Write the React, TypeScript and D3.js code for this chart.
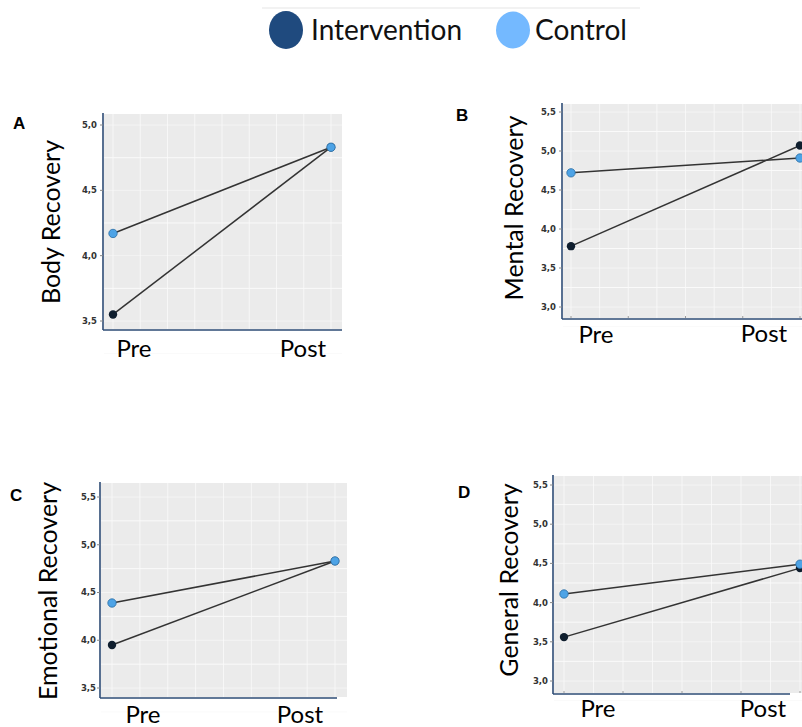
import * as d3 from "d3";

// data
const phases = ["Pre", "Post"];
const bodyIntervention = [3.55, 4.83];
const bodyControl = [4.17, 4.83];
const mentalIntervention = [3.78, 5.07];
const mentalControl = [4.72, 4.91];
const emotionalIntervention = [3.95, 4.83];
const emotionalControl = [4.39, 4.83];
const generalIntervention = [3.56, 4.44];
const generalControl = [4.11, 4.49];
const ticksA = [3.5, 4.0, 4.5, 5.0];
const ticksB = [3.0, 3.5, 4.0, 4.5, 5.0, 5.5];
const ticksC = [3.5, 4.0, 4.5, 5.0, 5.5];

const colors = {
  intervention: "#0f1e2e",
  control: "#4da3e6",
  legendIntervention: "#1f4a7e",
  legendControl: "#74b9ff",
  axis: "#2d4b75",
  panel: "#ebebeb",
};

const font = "Lato, 'Open Sans', sans-serif";

type Panel = {
  letter: string;
  title: string;
  intervention: number[];
  control: number[];
  ticks: number[];
  axisX: number;
  top: number;
  bottom: number;
  right: number;
  bgRight: number;
  yTickLow: number;
  yTickHigh: number;
  xPre: number;
  xPost: number;
  letterPos: [number, number];
  titlePos: [number, number];
  prePos: [number, number];
  postPos: [number, number];
  tickLabelX: number;
  xTicks: boolean;
};

const panels: Panel[] = [
  {
    letter: "A", title: "Body Recovery", intervention: bodyIntervention, control: bodyControl,
    ticks: ticksA, axisX: 103, top: 113, bottom: 330, right: 342, bgRight: 342,
    yTickLow: 321, yTickHigh: 125, xPre: 113, xPost: 331,
    letterPos: [13, 129], titlePos: [51, 222], prePos: [134, 357], postPos: [303, 357],
    tickLabelX: 97, xTicks: false,
  },
  {
    letter: "B", title: "Mental Recovery", intervention: mentalIntervention, control: mentalControl,
    ticks: ticksB, axisX: 562, top: 103, bottom: 319, right: 802, bgRight: 802,
    yTickLow: 307, yTickHigh: 112, xPre: 571, xPost: 800,
    letterPos: [456, 121], titlePos: [514, 208], prePos: [596, 343], postPos: [764, 342],
    tickLabelX: 556, xTicks: true,
  },
  {
    letter: "C", title: "Emotional Recovery", intervention: emotionalIntervention, control: emotionalControl,
    ticks: ticksC, axisX: 100, top: 482, bottom: 698, right: 337, bgRight: 347,
    yTickLow: 688, yTickHigh: 497, xPre: 112, xPost: 335,
    letterPos: [10, 501], titlePos: [48, 591], prePos: [143, 723], postPos: [300, 723],
    tickLabelX: 96, xTicks: false,
  },
  {
    letter: "D", title: "General Recovery", intervention: generalIntervention, control: generalControl,
    ticks: ticksB, axisX: 553, top: 475, bottom: 694, right: 790, bgRight: 802,
    yTickLow: 681, yTickHigh: 485, xPre: 564, xPost: 800,
    letterPos: [458, 498], titlePos: [509, 580], prePos: [598, 717], postPos: [763, 717],
    tickLabelX: 548, xTicks: true,
  },
];

function PanelChart({ p }: { p: Panel }) {
  const lo = p.ticks[0];
  const hi = p.ticks[p.ticks.length - 1];
  const y = d3.scaleLinear().domain([lo, hi]).range([p.yTickLow, p.yTickHigh]);
  const x = d3.scalePoint<string>().domain(phases).range([p.xPre, p.xPost]);
  const gx = d3.scaleLinear().domain([0, 8]).range([p.xPre, p.xPost]);
  const step = y(lo) - y(lo + 0.25);
  const hLines: number[] = [];
  for (let py = y(lo) + step; py > p.top; py -= step) hLines.push(py);
  const vLines = d3.range(-1, 10).map((i) => gx(i)).filter((v) => v > p.axisX && v < p.bgRight);
  const line = d3
    .line<number>()
    .x((_, i) => x(phases[i]) as number)
    .y((v) => y(v));

  return (
    <g>
      <rect x={p.axisX + 1} y={p.top + 1} width={p.bgRight - p.axisX - 1} height={p.bottom - p.top - 2} fill={colors.panel} />
      {hLines.map((v, i) => (
        <line key={"h" + i} x1={p.axisX + 1} x2={p.bgRight} y1={v} y2={v} stroke="#fafafa" strokeWidth={i % 2 === 0 ? 1 : 0.6} />
      ))}
      {vLines.map((v, i) => (
        <line key={"v" + i} x1={v} x2={v} y1={p.top + 1} y2={p.bottom - 1} stroke="#fafafa" strokeWidth={0.8} />
      ))}
      {p.xTicks &&
        d3.range(0, 9, 2).map((i) => (
          <line key={"t" + i} x1={gx(i)} x2={gx(i)} y1={p.bottom - 3} y2={p.bottom - 1} stroke="#999" strokeWidth={1} />
        ))}
      <line x1={p.axisX} x2={p.axisX} y1={p.top} y2={p.bottom} stroke={colors.axis} strokeWidth={1.6} />
      <line x1={p.axisX} x2={p.right} y1={p.bottom} y2={p.bottom} stroke={colors.axis} strokeWidth={1.6} />
      {p.ticks.map((t) => (
        <g key={t}>
          <line x1={p.axisX - 3} x2={p.axisX} y1={y(t)} y2={y(t)} stroke="#888" strokeWidth={1} />
          <text x={p.tickLabelX} y={y(t)} dy="0.35em" textAnchor="end" fontFamily="'DejaVu Sans', sans-serif" fontWeight="bold" fontSize={8.5} fill="#333">
            {d3.format(".1f")(t).replace(".", ",")}
          </text>
        </g>
      ))}
      <path d={line(p.control) ?? ""} fill="none" stroke="#333" strokeWidth={1.5} />
      <path d={line(p.intervention) ?? ""} fill="none" stroke="#333" strokeWidth={1.5} />
      {p.intervention.map((v, i) => (
        <circle key={"i" + i} cx={x(phases[i])} cy={y(v)} r={4.2} fill={colors.intervention} />
      ))}
      {p.control.map((v, i) => (
        <circle key={"c" + i} cx={x(phases[i])} cy={y(v)} r={4.2} fill={colors.control} stroke="#2b6da3" strokeWidth={0.8} />
      ))}
      <text x={p.letterPos[0]} y={p.letterPos[1]} fontFamily="'Liberation Sans', Arial, sans-serif" fontWeight="bold" fontSize={17} fill="#000">
        {p.letter}
      </text>
      <text
        transform={`translate(${p.titlePos[0] + 9},${p.titlePos[1]}) rotate(-90)`}
        textAnchor="middle"
        fontFamily={font}
        fontSize={25}
        fill="#000"
      >
        {p.title}
      </text>
      <text x={p.prePos[0]} y={p.prePos[1]} textAnchor="middle" fontFamily={font} fontSize={24} fill="#000">
        {phases[0]}
      </text>
      <text x={p.postPos[0]} y={p.postPos[1]} textAnchor="middle" fontFamily={font} fontSize={24} fill="#000">
        {phases[1]}
      </text>
    </g>
  );
}

export default function App() {
  return (
    <svg width={802} height={727} style={{ position: "absolute", left: 0, top: 0, background: "#fff" }}>
      <line x1={262} x2={640} y1={8} y2={8} stroke="#eeeeee" strokeWidth={1.5} />
      <ellipse cx={286} cy={30} rx={17} ry={19} fill={colors.legendIntervention} />
      <text x={311} y={40} fontFamily={font} fontSize={28} fill="#111">Intervention</text>
      <ellipse cx={513} cy={30} rx={17} ry={18.5} fill={colors.legendControl} />
      <text x={535} y={40} fontFamily={font} fontSize={28} fill="#111">Control</text>
      {panels.map((p) => (
        <PanelChart key={p.letter} p={p} />
      ))}
    </svg>
  );
}
